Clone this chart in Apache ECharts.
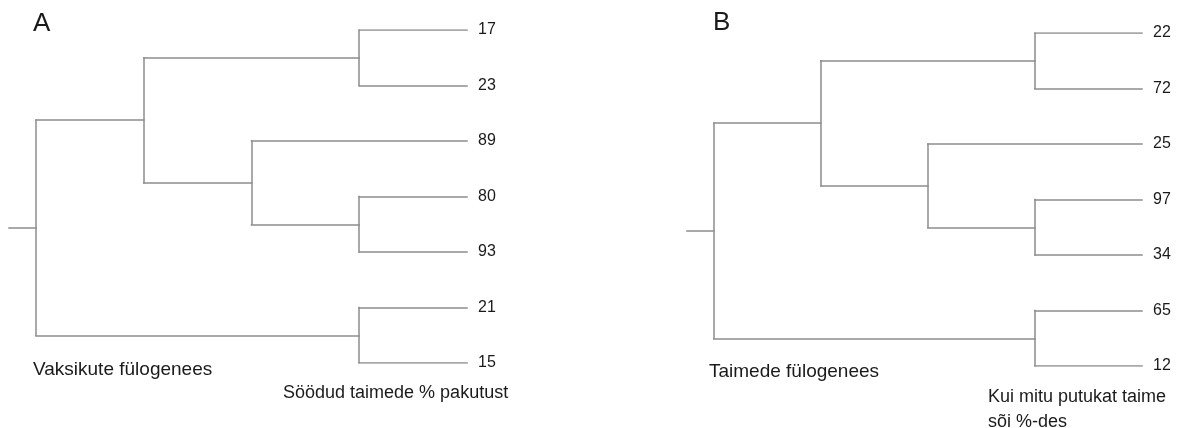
<!DOCTYPE html>
<html>
<head>
<meta charset="utf-8">
<script src="https://cdn.jsdelivr.net/npm/echarts@6/dist/echarts.min.js"></script>
<style>
  html, body { margin: 0; padding: 0; background: #ffffff; }
  #chart { width: 1185px; height: 428px; }
</style>
</head>
<body>
<div id="chart"></div>
<script>
// ---- data ----
const leavesA = ['17', '23', '89', '80', '93', '21', '15'];
const leavesB = ['22', '72', '25', '97', '34', '65', '12'];
// tree topology, nested pairs of leaf indices (top-to-bottom order)
const treeA = [[[0, 1], [2, [3, 4]]], [5, 6]];
const treeB = [[[0, 1], [2, [3, 4]]], [5, 6]];
const panelTitles = ['A', 'B'];
const treeCaptions = ['Vaksikute fülogenees', 'Taimede fülogenees'];
const leafCaptions = ['Söödud taimede % pakutust', 'Kui mitu putukat taime\nsõi %-des'];

// ---- cladogram layout (leaves aligned, internal nodes one level left of their highest child) ----
function layout(node) {
  if (typeof node === 'number') return { y: node, h: 0, kids: [] };
  const kids = node.map(layout);
  const h = 1 + Math.max(...kids.map(k => k.h));
  const y = (kids[0].y + kids[kids.length - 1].y) / 2;
  return { y, h, kids };
}
function segments(tree) {
  const root = layout(tree);
  const H = root.h;
  const segs = [];
  (function walk(n) {
    if (!n.kids.length) return;
    const x = H - n.h;
    segs.push({ coords: [[x, n.kids[0].y], [x, n.kids[n.kids.length - 1].y]] });
    n.kids.forEach(k => {
      segs.push({ coords: [[x, k.y], [H - k.h, k.y]] });
      walk(k);
    });
  })(root);
  segs.push({ coords: [[-0.25, root.y], [0, root.y]] });
  return { segs, H };
}

const sA = segments(treeA);
const sB = segments(treeB);
const FONT = '"Liberation Sans", Arial, Helvetica, sans-serif';
const TXT = '#1a1a1a';
const LINE = '#8c8c8c';

function yAx(idx, leaves) {
  return {
    type: 'value', gridIndex: idx, min: 0, max: leaves.length - 1, interval: 1,
    inverse: true, position: 'right',
    axisLine: { show: false }, axisTick: { show: false }, splitLine: { show: false },
    axisLabel: {
      margin: 11, fontSize: 16, color: TXT, fontFamily: FONT,
      formatter: v => leaves[v] ?? ''
    }
  };
}
function xAx(idx, H) {
  return { type: 'value', gridIndex: idx, min: -0.25, max: H, show: false };
}
function treeSeries(idx, segs) {
  return {
    type: 'lines', coordinateSystem: 'cartesian2d', xAxisIndex: idx, yAxisIndex: idx,
    polyline: false, silent: true, animation: false,
    lineStyle: { color: LINE, width: 1.5, opacity: 1, curveness: 0, cap: 'square' },
    data: segs
  };
}
function txt(text, x, y, size) {
  return {
    type: 'text', x, y, silent: true,
    style: { text, fill: TXT, font: size + 'px ' + FONT, textAlign: 'left',
             verticalAlign: 'middle', textVerticalAlign: 'middle', lineHeight: 24.5 }
  };
}

const chart = echarts.init(document.getElementById('chart'), null, { renderer: 'canvas' });
chart.setOption({
  backgroundColor: '#ffffff',
  animation: false,
  grid: [
    { left: 9, top: 30, width: 458, height: 333 },
    { left: 687, top: 33, width: 455, height: 333 }
  ],
  xAxis: [xAx(0, sA.H), xAx(1, sB.H)],
  yAxis: [yAx(0, leavesA), yAx(1, leavesB)],
  series: [treeSeries(0, sA.segs), treeSeries(1, sB.segs)],
  graphic: [
    txt(panelTitles[0], 33, 24, 26),
    txt(panelTitles[1], 713, 23, 26),
    txt(treeCaptions[0], 33, 370, 19),
    txt(treeCaptions[1], 709, 371.5, 19),
    txt(leafCaptions[0], 283, 393, 18),
    { type: 'text', x: 988, y: 385, silent: true,
      style: { text: leafCaptions[1], fill: TXT, font: '18px ' + FONT, textAlign: 'left',
               verticalAlign: 'top', lineHeight: 24.5 } }
  ]
});
</script>
</body>
</html>
